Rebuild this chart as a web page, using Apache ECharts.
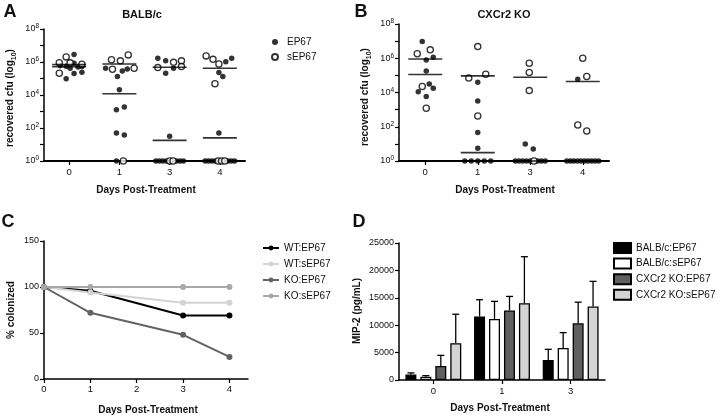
<!DOCTYPE html>
<html><head><meta charset="utf-8">
<script src="https://cdn.jsdelivr.net/npm/echarts@6/dist/echarts.min.js"></script>
<style>html,body{margin:0;padding:0;background:#fff}#c{width:720px;height:416px}</style>
</head><body><div id="c"></div>
<script>
// ---------- Panels A & B: recovered cfu (log10), per day ----------
const days = ['0', '1', '3', '4'];

// Panel A (BALB/c) - EP67 (filled) log10 values per day
const balbEP67 = [
  [6.46, 5.78, 5.75, 5.62, 5.92, 5.70, 5.72, 4.98, 5.30, 5.38],
  [5.62, 5.12, 5.46, 5.58, 4.32, 3.11, 3.27, 1.70, 1.57, 0],
  [6.22, 6.07, 5.32, 5.62, 1.50, 0, 0, 0, 0, 0, 0, 0],
  [6.02, 6.22, 5.36, 5.12, 1.70, 0, 0, 0, 0, 0, 0, 0]
];
// Panel A (BALB/c) - sEP67 (open)
const balbSEP67 = [
  [5.96, 6.31, 5.86, 5.32, 5.95],
  [6.14, 6.07, 6.43, 5.56, 5.62, 0],
  [5.66, 5.98, 6.07, 5.72, 0, 0],
  [6.37, 6.16, 5.88, 4.68, 0, 0, 0]
];
const balbMedEP67 = [5.72, 4.08, 1.25, 1.40];
const balbMedSEP67 = [5.85, 5.88, 5.68, 5.62];

// Panel B (CXCr2 KO)
const koScatEP67 = [
  [6.98, 6.06, 5.90, 5.26, 4.50, 4.05, 4.25, 3.76],
  [4.60, 3.51, 1.66, 0.74, 0, 0, 0, 0, 0],
  [0.99, 0.70, 0, 0, 0, 0, 0, 0, 0, 0],
  [4.78, 0, 0, 0, 0, 0, 0, 0, 0, 0, 0]
];
const koScatSEP67 = [
  [6.26, 6.49, 4.35, 3.08],
  [6.68, 4.84, 5.07, 2.63],
  [5.71, 5.17, 4.11, 0],
  [6.00, 4.93, 2.10, 1.75]
];
const koMedEP67 = [5.05, 0.49, 0, 0];
const koMedSEP67 = [5.96, 4.97, 4.89, 4.64];

// ---------- Panel C: % colonized ----------
const cDays = [0, 1, 3, 4];
const wtEP67 = [100, 96, 69, 69];
const wtSEP67 = [100, 94, 83, 83];
const koEP67 = [100, 72, 48, 24];
const koSEP67 = [100, 100, 100, 100];

// ---------- Panel D: MIP-2 (pg/mL) ----------
const dDays = ['0', '1', '3'];
const dNames = ['BALB/c:EP67', 'BALB/c:sEP67', 'CXCr2 KO:EP67', 'CXCr2 KO:sEP67'];
const dMeans = [
  [1000, 11600, 3650],
  [600, 11150, 5850],
  [2550, 12700, 10350],
  [6700, 14000, 13400]
];
const dSD = [
  [300, 3050, 1950],
  [200, 3200, 2800],
  [1950, 2550, 3850],
  [5300, 8500, 4600]
];

// ---------- layout / style (not data) ----------
// horizontal jitter of each point, in pixels
const jitA_EP = [
  [5, -9, -3, 1, 5, 9, 13, -3, 5, 13],
  [-14, -2, 3, 8, 0, -3, 5, -3, 5, -3],
  [-12, -4, -4, 4, 0, -14, -10.5, -7, -3.5, 7, 10.5, 14],
  [6, 12, -1, 3, -1, -15, -11.7, -8.3, -5, 8.3, 11.7, 15]
];
const jitA_S = [
  [-10, -3, 13, -10, 1],
  [-8, 1, 9, -7, 15, 4],
  [-12, 4, 12, 12, 0, 3.5],
  [-14, -7, -1, -5, -1.7, 1.7, 5]
];
const jitB_EP = [
  [-3, 8, 1, 1, 4, -7, 8, 1],
  [0, 0, 0, 0, -13, -6.5, 0, 6.5, 13],
  [-5, 3, -15, -11.25, -7.5, -3.75, 0, 7.5, 11.25, 15],
  [-5, -16, -12.4, -8.9, -5.3, -1.8, 1.8, 5.3, 8.9, 12.4, 16]
];
const jitB_S = [
  [-8, 5, -3, 1],
  [0, -9, 8, 0],
  [-1, -1, -1, 3.75],
  [0, 4, -5, 4]
];
const pxPerDayA = 51, pxPerDayB = 52.5;

function pts(vals, jit, pxPer) {
  const out = [];
  vals.forEach((arr, d) => arr.forEach((v, i) => out.push([d + jit[d][i] / pxPer, v])));
  return out;
}
function meds(arr) { return arr.map((v, d) => [d, v]); }

const FONT = 'Liberation Sans, Arial, Helvetica, sans-serif';
const TXT = '#111';
const axLine = w => ({ show: true, onZero: false, lineStyle: { color: '#000', width: w } });
const tick = { show: true, length: 4, lineStyle: { color: '#000', width: 1.2 } };

const logLabel = {
  fontFamily: FONT, color: TXT, margin: 5,
  formatter: v => '{b|10}{s|' + v + '}',
  rich: {
    b: { fontSize: 9, lineHeight: 12, fontFamily: FONT, color: TXT },
    s: { fontSize: 6.5, lineHeight: 7, verticalAlign: 'top', fontFamily: FONT, color: TXT }
  }
};
function logY(grid) {
  return {
    type: 'value', gridIndex: grid, min: 0, max: 8, interval: 2,
    axisLine: axLine(1.5), axisTick: tick,
    minorTick: { show: true, splitNumber: 2, length: 4, lineStyle: { color: '#000', width: 1.2 } },
    splitLine: { show: false }, minorSplitLine: { show: false },
    axisLabel: logLabel
  };
}
function catX(grid, data) {
  return {
    type: 'category', gridIndex: grid, data: data, position: 'bottom', boundaryGap: true,
    axisLine: axLine(2), axisTick: Object.assign({ alignWithLabel: true }, tick),
    axisLabel: { fontSize: 9.5, fontFamily: FONT, color: TXT, margin: 6 }
  };
}
function hiddenX(grid) {
  return { type: 'value', gridIndex: grid, min: -0.5, max: 3.5, show: false, position: 'bottom' };
}
const filledStyle = { color: '#000' };
const openStyle = { color: '#fff', borderColor: '#000', borderWidth: 1.3 };

const dColors = ['#000000', '#ffffff', '#5f5f5f', '#d4d4d4'];
const barOffsets = [-22.4, -7.5, 7.5, 22.4];

const series = [
  // Panel A
  { name: 'EP67', type: 'scatter', xAxisIndex: 1, yAxisIndex: 0, symbol: 'circle', symbolSize: 5.5,
    itemStyle: filledStyle, data: pts(balbEP67, jitA_EP, pxPerDayA) },
  { name: 'sEP67', type: 'scatter', xAxisIndex: 1, yAxisIndex: 0, symbol: 'circle', symbolSize: 6.2,
    itemStyle: openStyle, data: pts(balbSEP67, jitA_S, pxPerDayA) },
  { name: 'medA', type: 'scatter', xAxisIndex: 1, yAxisIndex: 0, symbol: 'rect', symbolSize: [34, 1.6],
    itemStyle: { color: '#000' }, data: meds(balbMedEP67).concat(meds(balbMedSEP67)) },
  // Panel B
  { name: 'EP67', type: 'scatter', xAxisIndex: 3, yAxisIndex: 1, symbol: 'circle', symbolSize: 5.5,
    itemStyle: filledStyle, data: pts(koScatEP67, jitB_EP, pxPerDayB) },
  { name: 'sEP67', type: 'scatter', xAxisIndex: 3, yAxisIndex: 1, symbol: 'circle', symbolSize: 6.2,
    itemStyle: openStyle, data: pts(koScatSEP67, jitB_S, pxPerDayB) },
  { name: 'medB', type: 'scatter', xAxisIndex: 3, yAxisIndex: 1, symbol: 'rect', symbolSize: [34, 1.6],
    itemStyle: { color: '#000' }, data: meds(koMedEP67).concat(meds(koMedSEP67)) },
];
// Panel C
[['WT:EP67', wtEP67, '#000000'], ['WT:sEP67', wtSEP67, '#d3d3d3'],
 ['KO:EP67', koEP67, '#636363'], ['KO:sEP67', koSEP67, '#a8a8a8']].forEach(([n, vals, col]) => {
  series.push({ name: n, type: 'line', xAxisIndex: 4, yAxisIndex: 2, symbol: 'circle', symbolSize: 6,
    showSymbol: true, itemStyle: { color: col }, lineStyle: { color: col, width: 2 },
    data: vals.map((v, i) => [cDays[i], v]) });
});
// Panel D bars
dNames.forEach((n, k) => {
  series.push({ name: n, type: 'bar', xAxisIndex: 5, yAxisIndex: 3, barWidth: 11, barGap: '36%',
    itemStyle: { color: dColors[k], borderColor: '#000', borderWidth: 1.3 },
    data: dMeans[k] });
});
// Panel D error bars (mean + SD, upward)
const errData = [];
dMeans.forEach((arr, k) => arr.forEach((m, i) => errData.push([i, m, dSD[k][i], k])));
series.push({
  name: 'err', type: 'custom', xAxisIndex: 5, yAxisIndex: 3, z: 1,
  encode: { x: 0, y: 1 }, data: errData,
  renderItem: function (params, api) {
    const cat = api.value(0), m = api.value(1), sd = api.value(2), k = api.value(3);
    const b = api.coord([cat, m]), t = api.coord([cat, m + sd]);
    const x = b[0] + barOffsets[k];
    const st = { stroke: '#000', lineWidth: 1.3 };
    return { type: 'group', children: [
      { type: 'line', shape: { x1: x, y1: b[1], x2: x, y2: t[1] }, style: st },
      { type: 'line', shape: { x1: x - 3.5, y1: t[1], x2: x + 3.5, y2: t[1] }, style: st }
    ] };
  }
});

function txt(x, y, text, size, bold, extra) {
  return Object.assign({ type: 'text', x: x, y: y, style: {
    text: text, fontSize: size, fontWeight: bold ? 'bold' : 'normal', fontFamily: FONT, fill: TXT,
    align: 'center', verticalAlign: 'middle' } }, extra || {});
}
function vtxt(x, y, text, size, rich) {
  const t = txt(x, y, text, size, true, { rotation: Math.PI / 2 });
  if (rich) t.style.rich = rich;
  return t;
}
const subRich = {
  sub: { fontSize: 7, fontWeight: 'bold', fontFamily: FONT, fill: TXT, verticalAlign: 'bottom', lineHeight: 8, padding: [0, 0, -3, 0] }
};

const option = {
  animation: false,
  backgroundColor: '#fff',
  textStyle: { fontFamily: FONT },
  grid: [
    { left: 44, top: 29, width: 201, height: 132 },
    { left: 399, top: 24, width: 210, height: 137 },
    { left: 44, top: 241, width: 204, height: 138 },
    { left: 399, top: 243, width: 206, height: 137 }
  ],
  xAxis: [
    catX(0, days), hiddenX(0),
    catX(1, days), hiddenX(1),
    { type: 'value', gridIndex: 2, min: 0, max: 4.4, interval: 1,
      axisLine: axLine(1.5),
      axisTick: Object.assign({ customValues: [0, 1, 2, 3, 4] }, tick),
      splitLine: { show: false },
      axisLabel: { customValues: [0, 1, 2, 3, 4], fontSize: 9.5, fontFamily: FONT, color: TXT, margin: 5 } },
    { type: 'category', gridIndex: 3, data: dDays, boundaryGap: true,
      axisLine: axLine(1.5), axisTick: Object.assign({ alignWithLabel: true }, tick),
      axisLabel: { fontSize: 9.5, fontFamily: FONT, color: TXT, margin: 6 } }
  ],
  yAxis: [
    logY(0), logY(1),
    { type: 'value', gridIndex: 2, min: 0, max: 150, interval: 50,
      axisLine: axLine(1.5), axisTick: tick, splitLine: { show: false },
      axisLabel: { fontSize: 9, fontFamily: FONT, color: TXT, margin: 5 } },
    { type: 'value', gridIndex: 3, min: 0, max: 25000, interval: 5000,
      axisLine: axLine(1.5), axisTick: tick, splitLine: { show: false },
      axisLabel: { fontSize: 9, fontFamily: FONT, color: TXT, margin: 5, formatter: v => String(v) } }
  ],
  legend: [
    { data: ['EP67', 'sEP67'], orient: 'vertical', left: 266, top: 31, itemWidth: 6, itemHeight: 6,
      itemGap: 3, selectedMode: false,
      textStyle: { fontSize: 10, fontFamily: FONT, color: TXT, lineHeight: 12, padding: [0, 0, 0, 4] } },
    { data: ['WT:EP67', 'WT:sEP67', 'KO:EP67', 'KO:sEP67'], orient: 'vertical', left: 257, top: 237,
      itemWidth: 16, itemHeight: 6, itemGap: 4, selectedMode: false,
      textStyle: { fontSize: 10, fontFamily: FONT, color: TXT, lineHeight: 12 } },
    { data: dNames, orient: 'vertical', left: 608, top: 237, icon: 'rect', itemWidth: 17, itemHeight: 10,
      itemGap: 3.6, selectedMode: false,
      textStyle: { fontSize: 10, fontFamily: FONT, color: TXT, lineHeight: 12 } }
  ],
  graphic: [
    txt(10, 12, 'A', 18, true), txt(361, 12, 'B', 18, true),
    txt(8, 222, 'C', 18, true), txt(359, 222, 'D', 18, true),
    txt(142, 15, 'BALB/c', 11, true), txt(504, 15, 'CXCr2 KO', 11, true),
    vtxt(10, 98, 'recovered cfu (log{sub|10})', 10, subRich),
    vtxt(365, 97, 'recovered cfu (log{sub|10})', 10, subRich),
    vtxt(11, 310, '% colonized', 10), vtxt(357, 311, 'MIP-2 (pg/mL)', 10),
    txt(146, 190, 'Days Post-Treatment', 10, true), txt(505, 190, 'Days Post-Treatment', 10, true),
    txt(148, 410, 'Days Post-Treatment', 10, true), txt(500, 408, 'Days Post-Treatment', 10, true)
  ],
  series: series
};
const chart = echarts.init(document.getElementById('c'), null, { renderer: 'canvas' });
chart.setOption(option);
</script>
</body></html>
